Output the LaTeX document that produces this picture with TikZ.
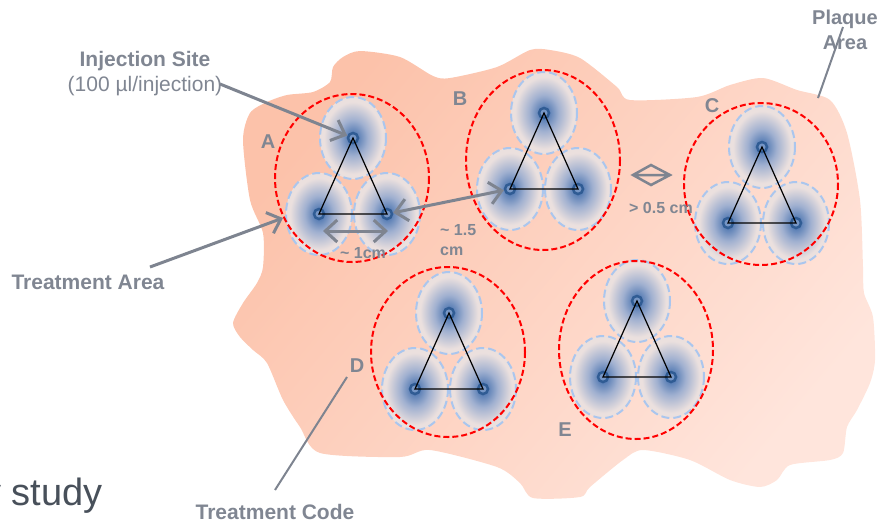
\documentclass[tikz,border=0pt]{standalone}
\usepackage{fontspec}
\setmainfont{Liberation Sans}
\usetikzlibrary{arrows.meta}
\definecolor{txtgray}{RGB}{128,134,146}
\definecolor{arrgray}{RGB}{126,132,144}
\definecolor{blobA}{RGB}{252,194,170}
\definecolor{blobB}{RGB}{255,229,220}
\definecolor{injblue}{RGB}{86,124,180}
\definecolor{injmid}{RGB}{160,176,208}
\definecolor{injpale}{RGB}{235,224,222}
\definecolor{ringblue}{RGB}{170,198,238}
\definecolor{dotblue}{RGB}{48,92,148}
\definecolor{dotfill}{RGB}{118,150,198}
\definecolor{studygray}{RGB}{72,80,90}
\pgfdeclareradialshading{injshade}{\pgfpoint{0bp}{0bp}}{color(0bp)=(injblue); color(3bp)=(injblue); color(11bp)=(injmid); color(22bp)=(injpale); color(50bp)=(injpale)}
\tikzset{
  lbl/.style={text=txtgray, font=\fontsize{21}{25}\selectfont\bfseries, inner sep=0pt},
  letter/.style={text=txtgray, font=\fontsize{20}{25}\selectfont\bfseries, inner sep=0pt},
  smalllbl/.style={text=txtgray, font=\fontsize{16}{20}\selectfont\bfseries, inner sep=0pt},
  arr/.style={draw=arrgray, line width=3pt, -{Straight Barb[length=12pt,width=22pt]}},
  darr/.style={draw=arrgray, line width=3pt, {Straight Barb[length=12pt,width=22pt]}-{Straight Barb[length=12pt,width=22pt]}},
  leader/.style={draw=arrgray, line width=2pt},
  area/.style={draw=red, line width=2pt, dash pattern=on 6pt off 3pt},
  zone/.style={draw=ringblue, line width=2pt, dash pattern=on 8pt off 4pt, shade, shading=injshade},
  site/.style={circle, draw=dotblue, line width=2.5pt, fill=dotfill, minimum size=10pt, inner sep=0pt},
  tri/.style={draw=black, line width=1.2pt},
}
% name, top x, top y, ellipse cx, cy, rx, ry
\newcommand\injgroup[7]{%
  \path[zone] (#2,#3) ellipse [x radius=33, y radius=41];
  \path[zone] (#2-34,#3+76) ellipse [x radius=33, y radius=41];
  \path[zone] (#2+34,#3+76) ellipse [x radius=33, y radius=41];
  \draw[area] (#4,#5) ellipse [x radius=#6, y radius=#7];
  \node[site] (#1t) at (#2,#3) {};
  \node[site] (#1l) at (#2-34,#3+76) {};
  \node[site] (#1r) at (#2+34,#3+76) {};
  \draw[tri] (#1t.center) -- (#1l.center) -- (#1r.center) -- cycle;
}
\begin{document}
\begin{tikzpicture}[x=1pt, y=-1pt]
\useasboundingbox (0,0) rectangle (881,523);
% plaque area
\path[top color=blobA, bottom color=blobB, shading angle=50]
  plot[smooth cycle, tension=0.45] coordinates {
  (243,140) (250,113) (267,102) (287,95) (313,92) (330,82) (333,67) (343,57) (360,51)
  (400,57) (433,76) (450,78) (497,67) (530,50) (550,50) (580,58) (617,87) (630,100)
  (697,97) (730,85) (763,78) (797,90) (830,100) (847,133) (860,200) (863,267)
  (864,293) (873,317) (875,360) (870,383) (857,410) (847,427) (843,453) (830,460)
  (790,465) (777,480) (760,487) (730,480) (690,460) (643,450) (623,460) (590,487)
  (580,497) (533,498) (520,483) (497,467) (430,450) (400,457) (320,453) (300,427)
  (283,400) (267,363) (253,350) (240,337) (233,323) (243,303) (257,283) (263,267)
  (263,233) (250,200)};
% treatment areas
\injgroup{A}{353}{138}{352}{178}{77}{84}
\injgroup{B}{544}{113}{543}{160}{77}{90}
\injgroup{C}{762}{147}{761}{184}{77}{81}
\injgroup{D}{449}{313}{448}{352}{77}{85}
\injgroup{E}{637}{301}{636}{350}{77}{89}
% labels
\node[text=txtgray, font=\fontsize{21}{25}\selectfont, align=center, inner sep=0pt] (inj) at (145,74)
  {\textbf{Injection Site}\\(100 µl/injection)};
\node[lbl] (ta) at (88,282) {Treatment Area};
\node[lbl] (tc) at (275,512) {Treatment Code};
\node[text=txtgray, font=\fontsize{20}{25}\selectfont\bfseries, align=center, inner sep=0pt] (pa) at (845,30) {Plaque\\Area};
\node[letter] (la) at (268,142) {A};
\node[letter] (lb) at (460,99) {B};
\node[letter] (lc) at (712,106) {C};
\node[letter] (ld) at (357,366) {D};
\node[letter] (le) at (565,430) {E};
\node[smalllbl] (d1) at (363,253) {\textasciitilde\ 1cm};
\node[smalllbl, align=left, anchor=west] (d15) at (440,240) {\textasciitilde\ 1.5\\cm};
\node[smalllbl] (d05) at (661,208) {> 0.5 cm};
\node[text=studygray, font=\fontsize{38}{40}\selectfont, inner sep=0pt, anchor=base west] (st) at (-18,505) {y study};
% connectors
\coordinate (injS) at (220,84);
\draw[arr] (injS) -- (At);
\coordinate (taS) at (150,267);
\coordinate (taE) at (283,218);
\draw[arr] (taS) -- (taE);
\coordinate (cmL) at (323,231);
\coordinate (cmR) at (388,231);
\draw[darr] (cmL) -- (cmR);
\draw[darr] (Ar) -- (Bl);
\coordinate (dmL) at (633,175);
\coordinate (dmT) at (651,165);
\coordinate (dmR) at (670,175);
\coordinate (dmB) at (651,185);
\draw[draw=arrgray, line width=2.5pt, line join=miter] (dmL) -- (dmT) -- (dmR) -- (dmB) -- cycle (dmL) -- (dmR);
\coordinate (plS) at (843,27);
\coordinate (plE) at (818,98);
\draw[leader] (plS) -- (plE);
\coordinate (tcS) at (275,490);
\coordinate (tcE) at (347,377);
\draw[leader] (tcS) -- (tcE);
\end{tikzpicture}
\end{document}
